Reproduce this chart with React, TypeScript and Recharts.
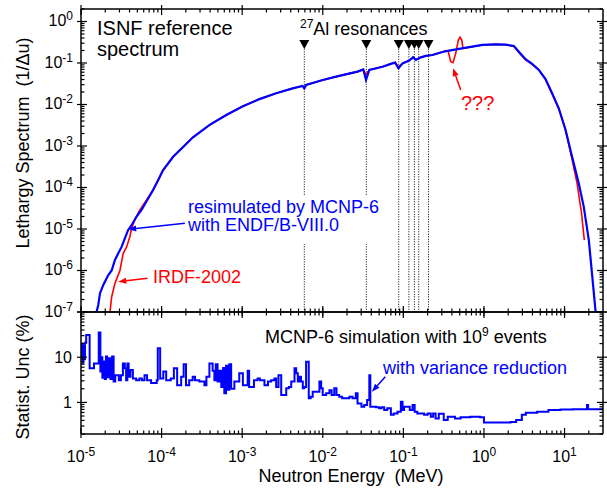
import React from 'react';
import { LineChart, Line, XAxis, YAxis, ReferenceLine, ReferenceDot } from 'recharts';

const FONT = '"Liberation Sans", Arial, Helvetica, sans-serif';
const BLUE = '#0000ff';
const RED = '#ff0000';

// lethargy spectrum, MCNP-6 resimulation (MeV, 1/du)
const blueEnergy = [
  1.56e-5, 1.64e-5, 1.72e-5, 1.89e-5, 2.18e-5, 2.4e-5, 2.64e-5, 2.9e-5, 3.19e-5, 3.51e-5,
  3.85e-5, 4.24e-5, 4.89e-5, 5.64e-5, 6.49e-5, 7.85e-5, 9.06e-5, 1.04e-4, 1.39e-4, 1.85e-4,
  2.45e-4, 3.95e-4, 6.35e-4, 1.02e-3, 1.64e-3, 2.64e-3, 4.24e-3, 5.6e-3, 5.9e-3, 6.2e-3,
  1.0e-2, 1.6e-2, 2.7e-2, 3.18e-2, 3.44e-2, 3.78e-2, 5.5e-2, 7.3e-2, 7.9e-2, 8.7e-2,
  9.75e-2, 0.118, 0.132, 0.143, 0.165, 0.19, 0.229, 0.305, 0.369, 0.49,
  0.716, 0.953, 1.4, 1.86, 2.35, 2.71, 3.28, 3.96, 4.8, 5.8,
  7.0, 8.47, 10.3, 12.4, 15.0, 17.3, 20.0, 21.9, 24.3,
];
const blueFlux = [
  1.0e-7, 1.5e-7, 2.8e-7, 4.5e-7, 7.8e-7, 1.0e-6, 1.8e-6, 2.6e-6, 3.7e-6, 6.0e-6,
  9.5e-6, 1.23e-5, 2.0e-5, 2.9e-5, 4.6e-5, 8.7e-5, 1.5e-4, 2.6e-4, 5.5e-4, 9.5e-4,
  1.62e-3, 3.24e-3, 5.6e-3, 9.1e-3, 1.35e-2, 1.86e-2, 2.45e-2, 2.8e-2, 2.45e-2, 2.95e-2,
  3.9e-2, 4.9e-2, 6.2e-2, 7.0e-2, 3.9e-2, 6.8e-2, 8.1e-2, 9.8e-2, 0.102, 7.4e-2,
  9.8e-2, 0.114, 0.137, 0.118, 0.137, 0.148, 0.156, 0.184, 0.198, 0.218,
  0.247, 0.272, 0.282, 0.276, 0.257, 0.187, 0.123, 0.095, 0.068, 0.041,
  0.0186, 8.1e-3, 2.43e-3, 5.5e-4, 1.26e-4, 3.46e-5, 5.4e-6, 8.5e-7, 1.0e-7,
];

// IRDF-2002 reference
const redEnergy = [
  2.29e-5, 2.4e-5, 2.64e-5, 3.04e-5, 3.34e-5, 3.68e-5, 4.04e-5, 4.24e-5, 4.66e-5, 5.37e-5,
  6.5e-5, 7.85e-5, 9.06e-5, 1.04e-4, 1.39e-4, 1.85e-4, 2.45e-4, 3.95e-4, 6.35e-4, 1.02e-3,
  1.64e-3, 2.64e-3, 4.24e-3, 5.6e-3, 5.9e-3, 6.2e-3, 1.0e-2, 1.6e-2, 2.7e-2, 3.18e-2,
  3.44e-2, 3.78e-2, 5.5e-2, 7.3e-2, 7.9e-2, 8.7e-2, 9.75e-2, 0.118, 0.132, 0.143,
  0.165, 0.19, 0.229, 0.305, 0.336, 0.36, 0.387, 0.413, 0.446, 0.481,
  0.505, 0.53, 0.55, 0.716, 0.953, 1.4, 1.86, 2.35, 2.71, 3.28,
  3.96, 4.8, 5.8, 7.0, 8.47, 10.3, 12.2, 14.3, 16.2, 17.6,
];
const redFlux = [
  1.0e-7, 2.3e-7, 4.9e-7, 1.0e-6, 2.6e-6, 3.7e-6, 6.5e-6, 1.04e-5, 1.65e-5, 2.9e-5,
  5.0e-5, 8.9e-5, 1.5e-4, 2.6e-4, 5.5e-4, 9.5e-4, 1.62e-3, 3.24e-3, 5.6e-3, 9.1e-3,
  1.35e-2, 1.86e-2, 2.45e-2, 2.8e-2, 2.6e-2, 2.95e-2, 3.9e-2, 4.9e-2, 6.2e-2, 7.0e-2,
  5.2e-2, 6.8e-2, 8.1e-2, 9.8e-2, 0.102, 8.0e-2, 9.8e-2, 0.114, 0.135, 0.122,
  0.137, 0.148, 0.156, 0.184, 0.198, 0.19, 0.107, 0.102, 0.17, 0.357,
  0.416, 0.357, 0.226, 0.247, 0.272, 0.282, 0.276, 0.255, 0.18, 0.118,
  0.093, 0.068, 0.041, 0.0186, 8.1e-3, 2.4e-3, 5.5e-4, 1.26e-4, 2.5e-5, 5.4e-6,
];

// statistical uncertainty (%)
const uncEnergy = [
  1.0e-5, 1.02e-5, 1.045e-5, 1.07e-5, 1.095e-5, 1.12e-5, 1.16e-5, 1.28e-5, 1.45e-5, 1.66e-5,
  1.74e-5, 1.8e-5, 1.84e-5, 1.9e-5, 1.97e-5, 2.04e-5, 2.11e-5, 2.21e-5, 2.32e-5, 2.43e-5,
  2.54e-5, 2.66e-5, 2.95e-5, 3.13e-5, 3.31e-5, 3.5e-5, 3.63e-5, 3.76e-5, 3.9e-5, 4.1e-5,
  4.4e-5, 4.84e-5, 5.3e-5, 5.7e-5, 6.14e-5, 6.6e-5, 7.41e-5, 8.7e-5, 8.97e-5, 9.6e-5,
  1.05e-4, 1.14e-4, 1.3e-4, 1.42e-4, 1.56e-4, 1.75e-4, 1.88e-4, 2.01e-4, 2.2e-4, 2.43e-4,
  2.6e-4, 2.94e-4, 3.4e-4, 3.6e-4, 3.92e-4, 4.3e-4, 4.52e-4, 4.7e-4, 4.95e-4, 5.21e-4,
  5.5e-4, 5.8e-4, 6.0e-4, 6.3e-4, 6.6e-4, 6.92e-4, 7.3e-4, 8.0e-4, 9.2e-4, 1.02e-3,
  1.17e-3, 1.22e-3, 1.4e-3, 1.55e-3, 1.66e-3, 1.89e-3, 2.09e-3, 2.29e-3, 2.51e-3, 2.64e-3,
  2.82e-3, 3.05e-3, 3.52e-3, 3.8e-3, 4.06e-3, 4.46e-3, 4.68e-3, 4.9e-3, 5.13e-3, 5.37e-3,
  5.65e-3, 5.9e-3, 6.21e-3, 6.7e-3, 7.08e-3, 7.5e-3, 9.08e-3, 9.55e-3, 9.98e-3, 1.1e-2,
  1.21e-2, 1.29e-2, 1.39e-2, 1.48e-2, 1.6e-2, 1.74e-2, 2.14e-2, 2.34e-2, 2.57e-2, 2.7e-2,
  3.02e-2, 3.27e-2, 3.55e-2, 3.78e-2, 3.89e-2, 4.57e-2, 5.01e-2, 5.37e-2, 5.78e-2, 6.31e-2,
  7.0e-2, 7.59e-2, 8.45e-2, 9.31e-2, 9.77e-2, 0.102, 0.12, 0.13, 0.138, 0.149,
  0.181, 0.2, 0.219, 0.234, 0.251, 0.275, 0.317, 0.355, 0.437, 0.513,
  0.676, 0.89, 1.0, 2.14, 2.51, 2.95, 3.31, 4.57, 6.31, 8.91,
  12.6, 19.0, 19.6, 30,
];
const uncPercent = [
  10, 20, 7.5, 18, 9, 21, 31, 5.7, 7.3, 35,
  4.8, 10, 3.5, 8, 3.3, 10.3, 3.6, 9.5, 3.3, 10.3,
  2.9, 4.0, 3.1, 4.0, 7.3, 5.7, 3.1, 7.3, 3.7, 5.2,
  3.4, 3.1, 3.4, 3.1, 4.0, 3.1, 2.7, 3.1, 15.7, 3.4,
  4.8, 3.1, 3.4, 5.7, 2.4, 3.7, 7.0, 2.4, 3.1, 3.7,
  3.1, 2.9, 2.4, 3.7, 7.3, 5.0, 3.1, 7.0, 2.9, 5.0,
  2.2, 5.8, 1.6, 6.5, 1.9, 7.0, 2.0, 2.9, 4.4, 2.4,
  5.0, 2.2, 3.1, 3.4, 3.1, 2.4, 2.9, 3.1, 3.4, 2.2,
  4.0, 1.46, 2.05, 2.2, 2.9, 5.7, 4.4, 2.9, 3.7, 2.9,
  2.05, 2.2, 7.9, 1.23, 1.34, 1.73, 2.9, 2.05, 1.46, 1.59,
  1.85, 1.46, 2.05, 1.46, 1.34, 1.23, 1.34, 1.23, 1.59, 0.95,
  0.8, 0.88, 1.13, 4.0, 0.8, 0.78, 0.74, 0.78, 0.68, 0.74,
  0.53, 0.57, 0.62, 1.04, 0.68, 0.8, 0.68, 0.88, 0.62, 0.57,
  0.53, 0.57, 0.48, 0.57, 0.44, 0.56, 0.41, 0.48, 0.44, 0.47,
  0.48, 0.47, 0.36, 0.37, 0.41, 0.53, 0.59, 0.62, 0.68, 0.7,
  0.71, 0.88, 0.71, 0.71,
];

// 27Al resonance energies (MeV)
const alResonances = [0.0059, 0.0347, 0.0876, 0.117, 0.137, 0.155, 0.205];
const markerLevel = 0.28;
const lineTop = 0.22;

// annotation arrows: [tailE, tailY, tipE, tipY]
const mcnpArrow = [1.94e-4, 1.37e-5, 3.85e-5, 9.8e-6];
const irdfArrow = [6.68e-5, 6.5e-7, 2.9e-5, 5.37e-7];
const oddArrow = [0.515, 0.0223, 0.413, 0.0745];
const varArrow = [0.0596, 3.7, 0.0407, 1.73];

const zip = (xs: number[], ys: number[]) => xs.map((e, i) => ({ e, v: ys[i] }));
const blueData = zip(blueEnergy, blueFlux);
const redData = zip(redEnergy, redFlux);
const uncData = zip(uncEnergy, uncPercent);

function logTicks(lo: number, hi: number) {
  const out: number[] = [];
  for (let k = Math.floor(Math.log10(lo)); k <= Math.ceil(Math.log10(hi)); k++) {
    for (let m = 1; m < 10; m++) {
      const v = Number((m * Math.pow(10, k)).toPrecision(3));
      if (v >= lo * 0.999 && v <= hi * 1.001) out.push(v);
    }
  }
  return out;
}

const xTicks = logTicks(1e-5, 20);
const specTicks = logTicks(1e-7, 2);
const uncTicks = logTicks(0.2, 100);

const isMajor = (v: number) => {
  const l = Math.log10(v);
  return Math.abs(l - Math.round(l)) < 1e-6;
};

type Side = 'top' | 'bottom' | 'left' | 'right';
type LabelFn = (v: number, x: number, y: number) => React.ReactNode;

function makeTick(side: Side, label?: LabelFn) {
  return (props: any) => {
    const { x, y, payload } = props;
    const v = payload.value;
    const major = isMajor(v);
    const inL = major ? 6 : 3.5;
    const outL = major ? 4 : 0;
    let c = { x1: x, x2: x, y1: y, y2: y };
    if (side === 'bottom') c = { x1: x, x2: x, y1: y - inL, y2: y + outL };
    if (side === 'top') c = { x1: x, x2: x, y1: y - outL, y2: y + inL };
    if (side === 'left') c = { x1: x - outL, x2: x + inL, y1: y, y2: y };
    if (side === 'right') c = { x1: x - inL, x2: x + outL, y1: y, y2: y };
    return (
      <g>
        <line {...c} stroke="#000" strokeWidth={1.2} />
        {major && label ? label(v, x, y) : null}
      </g>
    );
  };
}

const powLabel = (v: number) => (
  <>
    10<tspan dy={-6} fontSize={12}>{Math.round(Math.log10(v))}</tspan>
  </>
);

const xLabel: LabelFn = (v, x, y) => (
  <text x={x} y={y + 27.5} textAnchor="middle" fontSize={16} fill="#000" fontFamily={FONT}>
    {powLabel(v)}
  </text>
);

const specLabel: LabelFn = (v, x, y) => (
  <text x={x - 8} y={y + 5} textAnchor="end" fontSize={16} fill="#000" fontFamily={FONT}>
    {powLabel(v)}
  </text>
);

const uncLabel: LabelFn = (v, x, y) =>
  v === 1 || v === 10 ? (
    <text x={x - 9} y={y + 5.5} textAnchor="end" fontSize={16} fill="#000" fontFamily={FONT}>
      {v}
    </text>
  ) : null;

const arrowShape = (color: string) => (p: any) => {
  const { x1, y1, x2, y2 } = p;
  const dx = x2 - x1;
  const dy = y2 - y1;
  const len = Math.hypot(dx, dy) || 1;
  const ux = dx / len;
  const uy = dy / len;
  const hl = 8;
  const hw = 3;
  const bx = x2 - ux * hl;
  const by = y2 - uy * hl;
  return (
    <g>
      <line x1={x1} y1={y1} x2={bx} y2={by} stroke={color} strokeWidth={1.5} />
      <polygon
        points={`${x2},${y2} ${bx - uy * hw},${by + ux * hw} ${bx + uy * hw},${by - ux * hw}`}
        fill={color}
      />
    </g>
  );
};

const triangle = (p: any) => {
  const { cx, cy } = p;
  return <polygon points={`${cx - 5},${cy - 4.5} ${cx + 5},${cy - 4.5} ${cx},${cy + 4.5}`} fill="#000" />;
};

const frame = { stroke: '#000', strokeWidth: 1.5 };
const xDomain: [number, number] = [1e-5, 30];

function arrow(a: number[], color: string, xId: string, yId: string, key: string) {
  return (
    <ReferenceLine
      key={key}
      xAxisId={xId}
      yAxisId={yId}
      segment={[{ x: a[0], y: a[1] }, { x: a[2], y: a[3] }]}
      shape={arrowShape(color)}
    />
  );
}

function axesX(ids: [string, string], bottomLabel?: LabelFn) {
  return [
    <XAxis
      key="xb"
      xAxisId={ids[0]}
      dataKey="e"
      type="number"
      scale="log"
      domain={xDomain}
      allowDataOverflow
      ticks={xTicks}
      interval={0}
      height={1}
      tickSize={0}
      tickMargin={0}
      tickLine={false}
      axisLine={frame}
      tick={makeTick('bottom', bottomLabel)}
    />,
    <XAxis
      key="xt"
      xAxisId={ids[1]}
      orientation="top"
      dataKey="e"
      type="number"
      scale="log"
      domain={xDomain}
      allowDataOverflow
      ticks={xTicks}
      interval={0}
      height={1}
      tickSize={0}
      tickMargin={0}
      tickLine={false}
      axisLine={frame}
      tick={makeTick('top')}
    />,
  ];
}

function axesY(domain: [number, number], ticks: number[], label: LabelFn) {
  return [
    <YAxis
      key="yl"
      yAxisId="l"
      type="number"
      scale="log"
      domain={domain}
      allowDataOverflow
      ticks={ticks}
      interval={0}
      width={81}
      tickSize={0}
      tickMargin={0}
      tickLine={false}
      axisLine={frame}
      tick={makeTick('left', label)}
    />,
    <YAxis
      key="yr"
      yAxisId="r"
      orientation="right"
      type="number"
      scale="log"
      domain={domain}
      allowDataOverflow
      ticks={ticks}
      interval={0}
      width={1}
      tickSize={0}
      tickMargin={0}
      tickLine={false}
      axisLine={frame}
      tick={makeTick('right')}
    />,
  ];
}

export default function App() {
  return (
    <div style={{ position: 'absolute', left: 0, top: 0, width: 607, height: 489, background: '#fff', fontFamily: FONT }}>
      <div style={{ position: 'absolute', left: 0, top: 0 }}>
        <LineChart width={607} height={320} margin={{ top: 8, right: 3, bottom: 7, left: 0 }}>
          {axesX(['b', 't'])}
          {axesY([1e-7, 2], specTicks, specLabel)}
          {alResonances.map((e) => (
            <ReferenceLine
              key={'rl' + e}
              xAxisId="b"
              yAxisId="l"
              segment={[{ x: e, y: lineTop }, { x: e, y: 1e-7 }]}
              stroke="#000"
              strokeWidth={1}
              strokeDasharray="1 1.5"
            />
          ))}
          {alResonances.map((e) => (
            <ReferenceDot key={'rd' + e} xAxisId="b" yAxisId="l" x={e} y={markerLevel} shape={triangle} />
          ))}
          <Line xAxisId="b" yAxisId="l" data={redData} dataKey="v" stroke={RED} strokeWidth={1.6} dot={false} isAnimationActive={false} />
          <Line xAxisId="b" yAxisId="l" data={blueData} dataKey="v" stroke={BLUE} strokeWidth={2.2} dot={false} isAnimationActive={false} />
          {arrow(mcnpArrow, BLUE, 'b', 'l', 'a1')}
          {arrow(irdfArrow, RED, 'b', 'l', 'a2')}
          {arrow(oddArrow, RED, 'b', 'l', 'a3')}
        </LineChart>
      </div>
      <div style={{ position: 'absolute', left: 0, top: 0 }}>
        <LineChart width={607} height={489} margin={{ top: 311, right: 3, bottom: 54, left: 0 }}>
          {axesX(['b', 't'], xLabel)}
          {axesY([0.2, 100], uncTicks, uncLabel)}
          <Line xAxisId="b" yAxisId="l" data={uncData} dataKey="v" type="stepAfter" stroke={BLUE} strokeWidth={2} dot={false} isAnimationActive={false} />
          {arrow(varArrow, BLUE, 'b', 'l', 'a4')}
        </LineChart>
      </div>
      <svg width={607} height={489} style={{ position: 'absolute', left: 0, top: 0, pointerEvents: 'none' }} fontFamily={FONT}>
        <text x={97} y={35} fontSize={20} fill="#000">ISNF reference</text>
        <text x={97} y={56} fontSize={20} fill="#000">spectrum</text>
        <text x={300} y={35} fill="#000">
          <tspan fontSize={12} dy={-7}>27</tspan>
          <tspan fontSize={18} dy={7}>Al resonances</tspan>
        </text>
        <rect x={186} y={196} width={195} height={48} fill="#fff" />
        <text x={188} y={212.5} fontSize={18} fill={BLUE}>resimulated by MCNP-6</text>
        <text x={188} y={231} fontSize={18} fill={BLUE}>with ENDF/B-VIII.0</text>
        <text x={153} y={283} fontSize={18} fill={RED}>IRDF-2002</text>
        <text x={461} y={110} fontSize={20} fill={RED}>???</text>
        <text x={265} y={343.3} fontSize={18} fill="#000" style={{ whiteSpace: 'pre' }}>
          MCNP-6 simulation with 10<tspan fontSize={12} dy={-7}>9</tspan>
          <tspan dy={7}> events</tspan>
        </text>
        <text x={383} y={374} fontSize={18} fill={BLUE}>with variance reduction</text>
        <text x={351} y={482} fontSize={18} fill="#000" textAnchor="middle" style={{ whiteSpace: 'pre' }}>
          Neutron Energy  (MeV)
        </text>
        <text transform="translate(29,143) rotate(-90)" fontSize={18} fill="#000" textAnchor="middle" style={{ whiteSpace: 'pre' }}>
          Lethargy Spectrum  (1/Δu)
        </text>
        <text transform="translate(29,377) rotate(-90)" fontSize={18} fill="#000" textAnchor="middle" style={{ whiteSpace: 'pre' }}>
          Statist. Unc (%)
        </text>
      </svg>
    </div>
  );
}
